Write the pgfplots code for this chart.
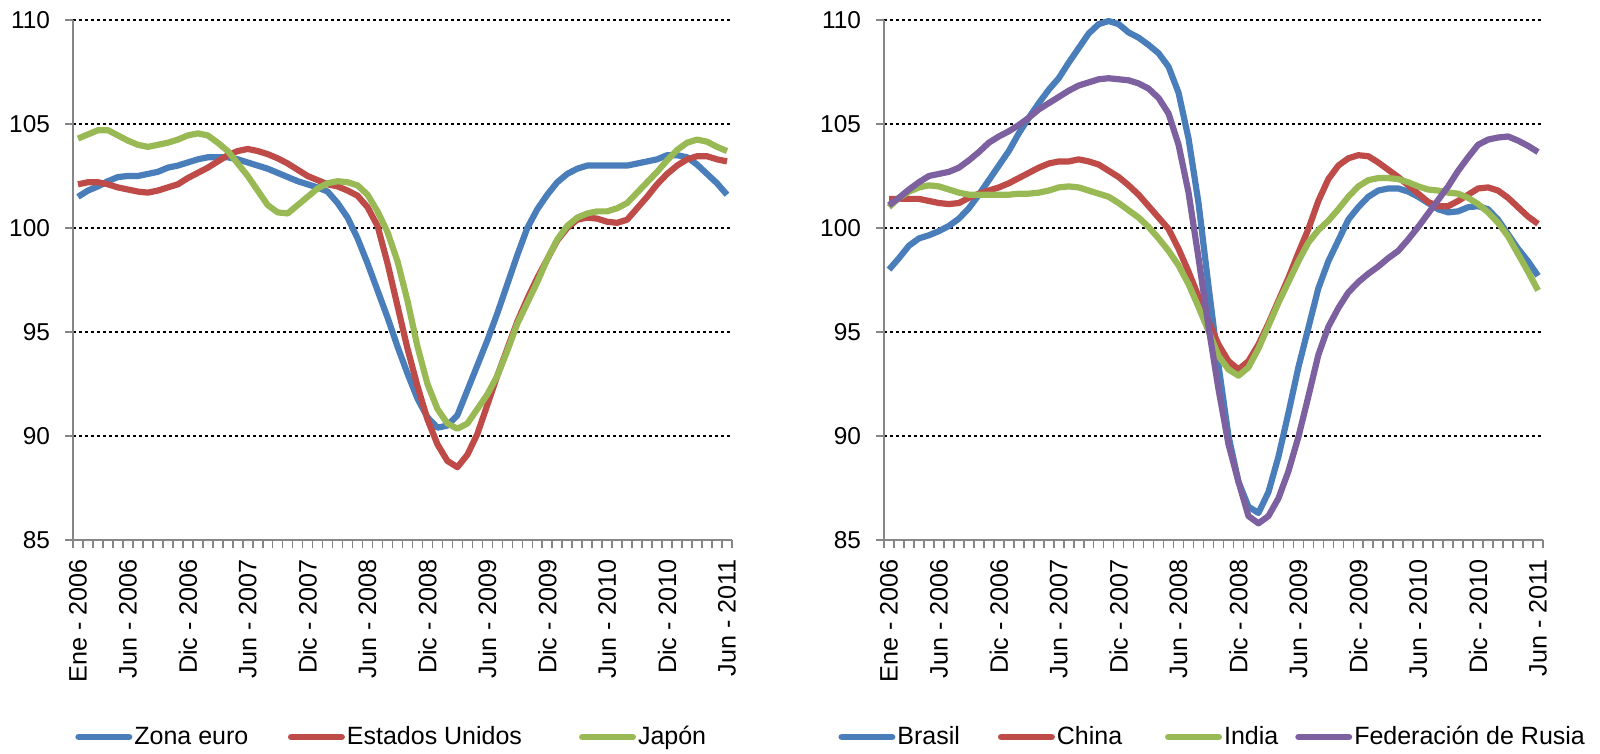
\documentclass[border=0pt]{standalone}
\usepackage{fontspec}
\setmainfont{Liberation Sans}
\usepackage{pgfplots}
\usepackage{pgfplotstable}
\pgfplotsset{compat=1.18}
\definecolor{axisgray}{HTML}{868686}
\definecolor{cblue}{HTML}{4A7EBB}
\definecolor{cred}{HTML}{BE4B48}
\definecolor{cgreen}{HTML}{98B954}
\definecolor{cpurple}{HTML}{7D60A0}

\pgfplotstableread{
i ze us jp
0 101.5 102.1 104.3
1 101.8 102.2 104.5
2 102.0 102.2 104.7
3 102.25 102.1 104.7
4 102.45 101.95 104.45
5 102.5 101.85 104.2
6 102.5 101.75 104.0
7 102.6 101.7 103.9
8 102.7 101.8 104.0
9 102.9 101.95 104.1
10 103.0 102.1 104.25
11 103.15 102.4 104.45
12 103.3 102.65 104.55
13 103.4 102.9 104.45
14 103.4 103.2 104.1
15 103.4 103.5 103.7
16 103.3 103.7 103.1
17 103.15 103.8 102.5
18 103.0 103.7 101.8
19 102.85 103.55 101.1
20 102.65 103.35 100.75
21 102.45 103.1 100.7
22 102.25 102.8 101.1
23 102.1 102.5 101.5
24 101.95 102.3 101.9
25 101.75 102.1 102.15
26 101.2 102.0 102.25
27 100.5 101.8 102.2
28 99.5 101.55 102.05
29 98.3 101.0 101.6
30 97.0 100.1 100.8
31 95.7 98.3 99.8
32 94.3 96.25 98.4
33 93.0 94.2 96.5
34 91.8 92.4 94.3
35 90.9 90.8 92.5
36 90.4 89.6 91.3
37 90.5 88.8 90.6
38 91.0 88.5 90.35
39 92.2 89.1 90.6
40 93.4 90.1 91.3
41 94.6 91.5 92.0
42 95.9 92.9 92.9
43 97.3 94.2 94.1
44 98.7 95.5 95.4
45 100.0 96.6 96.4
46 100.9 97.6 97.4
47 101.6 98.5 98.5
48 102.2 99.4 99.45
49 102.6 100.0 100.1
50 102.85 100.4 100.5
51 103.0 100.5 100.7
52 103.0 100.45 100.8
53 103.0 100.3 100.8
54 103.0 100.25 100.95
55 103.0 100.4 101.2
56 103.1 100.95 101.7
57 103.2 101.5 102.2
58 103.3 102.1 102.7
59 103.5 102.6 103.25
60 103.5 103.0 103.75
61 103.4 103.3 104.1
62 103.05 103.45 104.25
63 102.6 103.45 104.15
64 102.15 103.3 103.9
65 101.6 103.2 103.7
}\lefttable

\pgfplotstableread{
i br cn in ru
0 98.0 101.4 101.0 101.1
1 98.55 101.4 101.45 101.45
2 99.15 101.4 101.75 101.85
3 99.5 101.4 101.95 102.2
4 99.65 101.3 102.05 102.5
5 99.85 101.2 102.0 102.6
6 100.1 101.15 101.85 102.7
7 100.45 101.2 101.7 102.9
8 100.95 101.45 101.6 103.25
9 101.6 101.65 101.6 103.65
10 102.3 101.8 101.6 104.1
11 103.0 101.95 101.6 104.4
12 103.7 102.15 101.6 104.65
13 104.55 102.4 101.65 104.95
14 105.3 102.65 101.65 105.3
15 106.0 102.9 101.7 105.7
16 106.65 103.1 101.8 106.0
17 107.2 103.2 101.95 106.3
18 107.95 103.2 102.0 106.6
19 108.65 103.3 101.95 106.85
20 109.35 103.2 101.8 107.0
21 109.8 103.05 101.65 107.15
22 109.95 102.75 101.5 107.2
23 109.8 102.45 101.2 107.15
24 109.4 102.05 100.85 107.1
25 109.15 101.6 100.5 106.95
26 108.8 101.05 100.05 106.7
27 108.4 100.5 99.5 106.25
28 107.75 99.95 98.9 105.5
29 106.5 99.0 98.2 104.0
30 104.3 97.9 97.3 101.7
31 101.2 96.7 96.2 98.55
32 97.2 95.5 95.05 95.25
33 93.4 94.4 93.85 92.25
34 90.0 93.6 93.2 89.6
35 87.8 93.2 92.9 87.8
36 86.6 93.6 93.3 86.15
37 86.3 94.4 94.2 85.8
38 87.3 95.4 95.3 86.15
39 89.0 96.5 96.4 87.0
40 91.1 97.6 97.4 88.3
41 93.3 98.8 98.4 89.95
42 95.2 99.95 99.3 91.9
43 97.1 101.3 99.9 93.9
44 98.4 102.35 100.35 95.25
45 99.4 103.0 100.9 96.15
46 100.4 103.35 101.5 96.9
47 101.0 103.5 102.0 97.4
48 101.5 103.45 102.3 97.8
49 101.8 103.15 102.4 98.15
50 101.9 102.8 102.4 98.55
51 101.9 102.45 102.35 98.9
52 101.75 102.05 102.2 99.45
53 101.5 101.65 102.0 100.05
54 101.2 101.25 101.85 100.7
55 100.9 101.05 101.8 101.35
56 100.75 101.05 101.7 102.0
57 100.8 101.3 101.65 102.75
58 101.0 101.6 101.45 103.4
59 101.05 101.9 101.15 104.0
60 100.9 101.95 100.75 104.25
61 100.4 101.8 100.25 104.35
62 99.7 101.45 99.6 104.4
63 99.0 101.0 98.75 104.2
64 98.4 100.55 97.9 103.95
65 97.7 100.2 97.0 103.65
}\righttable

\pgfplotsset{
  panel/.style={
    scale only axis, width=329.5pt, height=260pt,
    xmin=-0.5, xmax=65.5, ymin=85, ymax=110,
    axis x line*=bottom, axis y line*=left,
    axis line style={draw=axisgray, line width=0.8pt},
    ytick={90,95,...,110}, extra y ticks={85}, extra y tick style={grid=none},
    ymajorgrids,
    grid style={black, line width=0.9pt, dash pattern=on 1.4pt off 1.6pt},
    xtick={-0.5,0.5,...,65.5}, xticklabels={},
    extra x ticks={0,5,11,17,23,29,35,41,47,53,59,65},
    extra x tick labels={Ene - 2006, Jun - 2006, Dic - 2006, Jun - 2007, Dic - 2007, Jun - 2008, Dic - 2008, Jun - 2009, Dic - 2009, Jun - 2010, Dic - 2010, Jun - 2011},
    extra x tick style={major tick length=0pt},
    xticklabel style={rotate=90, anchor=east, font=\fontsize{12.6}{14}\selectfont},
    xticklabel shift=6pt,
    yticklabel shift=4pt,
    tick align=outside, major tick length=4pt,
    tick style={axisgray, line width=0.8pt},
    yticklabel style={font=\fontsize{12.2}{14}\selectfont},
    /pgf/number format/assume math mode=true,
    clip=false,
    every axis plot/.append style={line width=3.1pt, line join=round, no markers},
    legend columns=-1,
    legend image code/.code={\draw[##1, line width=3.4pt, line cap=round] (1.7pt,0pt) -- (26.8pt,0pt);},
  }
}

\begin{document}
\begin{tikzpicture}
\useasboundingbox (0,0) rectangle (800pt,377pt);
\begin{axis}[panel, at={(36.5pt,107pt)}, anchor=south west,
  legend style={draw=none, fill=none, at={(0.003,-0.3788)}, anchor=west,
    font=\fontsize{12.5}{15}\selectfont, inner sep=0pt,
    nodes={inner sep=1pt},
    /tikz/every even column/.append style={column sep=0pt}}]
\addplot[cblue] table[x=i, y=ze] {\lefttable};
\addlegendentry{Zona euro\rule{18.8pt}{0pt}}
\addplot[cred] table[x=i, y=us] {\lefttable};
\addlegendentry{Estados Unidos\rule{27.5pt}{0pt}}
\addplot[cgreen] table[x=i, y=jp] {\lefttable};
\addlegendentry{Japón}
\end{axis}
\begin{axis}[panel, at={(442pt,107pt)}, anchor=south west,
  legend style={draw=none, fill=none, at={(-0.0698,-0.3788)}, anchor=west,
    font=\fontsize{12.5}{15}\selectfont, inner sep=0pt,
    nodes={inner sep=1pt},
    /tikz/every even column/.append style={column sep=0pt}}]
\addplot[cblue] table[x=i, y=br] {\righttable};
\addlegendentry{Brasil\rule{18pt}{0pt}}
\addplot[cred] table[x=i, y=cn] {\righttable};
\addlegendentry{China\rule{20.4pt}{0pt}}
\addplot[cgreen] table[x=i, y=in] {\righttable};
\addlegendentry{India\rule{7.5pt}{0pt}}
\addplot[cpurple] table[x=i, y=ru] {\righttable};
\addlegendentry{Federación de Rusia}
\end{axis}
\end{tikzpicture}
\end{document}
